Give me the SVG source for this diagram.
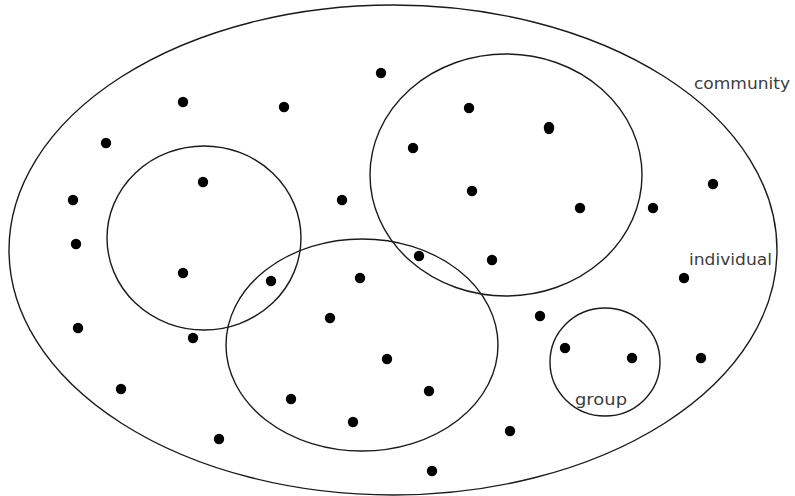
<svg xmlns="http://www.w3.org/2000/svg" width="795" height="496" viewBox="0 0 795 496">
<style>
.ring{fill:none;stroke:#1a1a1a;stroke-width:1.4}
.dot{fill:#000}
.lbl{font-family:"DejaVu Sans","Liberation Sans",sans-serif;font-size:16.5px;fill:#3c3c3c}
</style>
<rect width="795" height="496" fill="#fff"/>
<g id="community">
<ellipse class="ring" cx="393" cy="250" rx="384" ry="245"/>
<text class="lbl" x="694" y="89" textLength="96" lengthAdjust="spacingAndGlyphs">community</text>
</g>
<g id="setA"><ellipse class="ring" cx="204" cy="238" rx="97" ry="92"/></g>
<g id="setB"><ellipse class="ring" cx="362" cy="345" rx="136" ry="106"/></g>
<g id="setC"><ellipse class="ring" cx="506" cy="175" rx="136" ry="121"/></g>
<g id="group">
<ellipse class="ring" cx="605" cy="362" rx="55" ry="54"/>
<text class="lbl" x="575" y="405" textLength="52" lengthAdjust="spacingAndGlyphs">group</text>
</g>
<g id="individual">
<text class="lbl" x="689" y="265" textLength="83" lengthAdjust="spacingAndGlyphs">individual</text>
</g>
<g id="individuals" class="dot">
<circle cx="381" cy="73" r="5.2"/>
<circle cx="183" cy="102" r="5.2"/>
<circle cx="284" cy="107" r="5.2"/>
<circle cx="106" cy="143" r="5.2"/>
<circle cx="203" cy="182" r="5.2"/>
<circle cx="73" cy="200" r="5.2"/>
<circle cx="342" cy="200" r="5.2"/>
<circle cx="76" cy="244" r="5.2"/>
<circle cx="469" cy="108" r="5.2"/>
<ellipse cx="549" cy="128" rx="5.2" ry="6.2"/>
<circle cx="413" cy="148" r="5.2"/>
<circle cx="472" cy="191" r="5.2"/>
<circle cx="580" cy="208" r="5.2"/>
<circle cx="653" cy="208" r="5.2"/>
<circle cx="713" cy="184" r="5.2"/>
<circle cx="183" cy="273" r="5.2"/>
<circle cx="271" cy="281" r="5.2"/>
<circle cx="360" cy="278" r="5.2"/>
<circle cx="330" cy="318" r="5.2"/>
<circle cx="78" cy="328" r="5.2"/>
<circle cx="193" cy="338" r="5.2"/>
<circle cx="387" cy="359" r="5.2"/>
<circle cx="121" cy="389" r="5.2"/>
<circle cx="291" cy="399" r="5.2"/>
<circle cx="353" cy="422" r="5.2"/>
<circle cx="219" cy="439" r="5.2"/>
<circle cx="419" cy="256" r="5.2"/>
<circle cx="492" cy="260" r="5.2"/>
<circle cx="684" cy="278" r="5.2"/>
<circle cx="540" cy="316" r="5.2"/>
<circle cx="565" cy="348" r="5.2"/>
<circle cx="632" cy="358" r="5.2"/>
<circle cx="701" cy="358" r="5.2"/>
<circle cx="429" cy="391" r="5.2"/>
<circle cx="510" cy="431" r="5.2"/>
<circle cx="432" cy="471" r="5.2"/>
</g>
</svg>
